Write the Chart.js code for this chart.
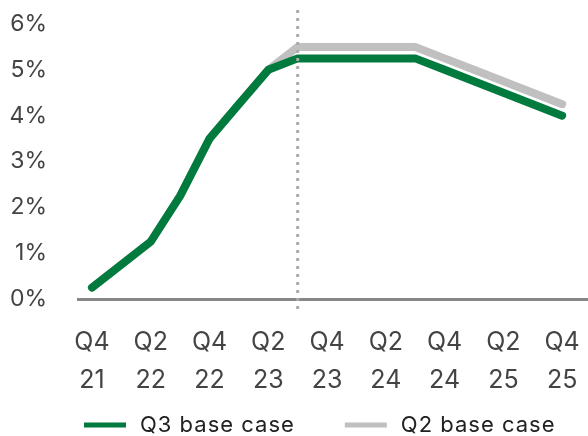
<!DOCTYPE html>
<html>
<head>
<meta charset="utf-8">
<script src="https://cdn.jsdelivr.net/npm/chart.js@4"></script>
<style>
  body { margin: 0; background: #fff; }
  #wrap { width: 588px; height: 436px; }
</style>
</head>
<body>
<div id="wrap"><canvas id="rates"></canvas></div>
<script>
// quarterly path of the policy rate, %
var quarters = ['Q4 21', 'Q1 22', 'Q2 22', 'Q3 22', 'Q4 22', 'Q1 23', 'Q2 23', 'Q3 23', 'Q4 23',
                'Q1 24', 'Q2 24', 'Q3 24', 'Q4 24', 'Q1 25', 'Q2 25', 'Q3 25', 'Q4 25'];
var q3Base = [0.25, 0.75, 1.25, 2.25, 3.5, 4.25, 5.0, 5.25, 5.25, 5.25, 5.25, 5.25, 5.0, 4.75, 4.5, 4.25, 4.0];
var q2Base = [0.25, 0.75, 1.25, 2.25, 3.5, 4.25, 5.0, 5.5, 5.5, 5.5, 5.5, 5.5, 5.25, 5.0, 4.75, 4.5, 4.25];
var yTicks = [0, 1, 2, 3, 4, 5, 6];
var forecastStart = 'Q3 23';

var GREEN = '#007a3d';
var GREY = '#c0c0c0';
var FONT = 'Inter';

function toPoints(arr) {
    return arr.map(function (v, i) { return { x: i, y: v }; });
}

// dotted marker where the forecast begins
var forecastLine = {
    id: 'forecastLine',
    afterDatasetsDraw: function (chart) {
        var ctx = chart.ctx;
        var x = chart.scales.x.getPixelForValue(quarters.indexOf(forecastStart));
        var area = chart.chartArea;
        ctx.save();
        ctx.strokeStyle = '#aaaaaa';
        ctx.lineWidth = 3;
        ctx.setLineDash([3, 5]);
        ctx.beginPath();
        ctx.moveTo(x, area.top - 14);
        ctx.lineTo(x, area.bottom + 11);
        ctx.stroke();
        ctx.restore();
    }
};

// legend drawn as short thick bars with labels
var barLegend = {
    id: 'barLegend',
    afterDraw: function (chart) {
        var ctx = chart.ctx;
        var x = 84, y = 425;
        ctx.save();
        ctx.font = '22px ' + FONT;
        ctx.letterSpacing = '1px';
        ctx.textBaseline = 'middle';
        chart.data.datasets.forEach(function (ds) {
            ctx.fillStyle = ds.borderColor;
            ctx.fillRect(x, y - 2.5, 42, 5);
            x += 56;
            ctx.fillStyle = '#222';
            ctx.fillText(ds.label, x, y);
            x += ctx.measureText(ds.label).width + 50;
        });
        ctx.restore();
    }
};

new Chart(document.getElementById('rates'), {
    type: 'line',
    data: {
        datasets: [{
            label: 'Q3 base case',
            data: toPoints(q3Base),
            borderColor: GREEN,
            backgroundColor: GREEN,
            borderWidth: 8,
            borderCapStyle: 'round',
            borderJoinStyle: 'round',
            pointRadius: 0,
            tension: 0,
            clip: false
        }, {
            label: 'Q2 base case',
            data: toPoints(q2Base),
            borderColor: GREY,
            backgroundColor: GREY,
            borderWidth: 8,
            borderCapStyle: 'round',
            borderJoinStyle: 'round',
            pointRadius: 0,
            tension: 0,
            clip: false
        }]
    },
    options: {
        responsive: true,
        maintainAspectRatio: false,
        animation: false,
        layout: { padding: { top: 24, right: 0, bottom: 36, left: 0 } },
        plugins: {
            legend: { display: false },
            tooltip: { enabled: false }
        },
        scales: {
            x: {
                type: 'linear',
                min: -0.476,
                max: 16.88,
                afterBuildTicks: function (scale) {
                    scale.ticks = quarters.map(function (q, i) { return { value: i }; })
                        .filter(function (t) { return t.value % 2 === 0; });
                },
                afterFit: function (scale) {
                    scale.height = 101;
                    scale.paddingLeft = 0;
                    scale.paddingRight = 0;
                },
                grid: { display: false, drawTicks: false, tickLength: 0 },
                border: { display: true, color: '#888888', width: 3 },
                ticks: {
                    autoSkip: false,
                    maxRotation: 0,
                    padding: 24,
                    color: '#444',
                    font: { family: FONT, size: 25, lineHeight: 1.52 },
                    callback: function (v) { return quarters[v].split(' '); }
                }
            },
            y: {
                min: 0,
                max: 6,
                afterBuildTicks: function (scale) {
                    scale.ticks = yTicks.map(function (v) { return { value: v }; });
                },
                afterFit: function (scale) {
                    scale.width = 78;
                    scale.paddingTop = 0;
                    scale.paddingBottom = 0;
                },
                grid: { display: false, drawTicks: false, tickLength: 0 },
                border: { display: false },
                ticks: {
                    padding: 31,
                    color: '#444',
                    font: { family: FONT, size: 23, lineHeight: 1.2 },
                    callback: function (v) { return v + '%'; }
                }
            }
        }
    },
    plugins: [forecastLine, barLegend]
});
</script>
</body>
</html>
